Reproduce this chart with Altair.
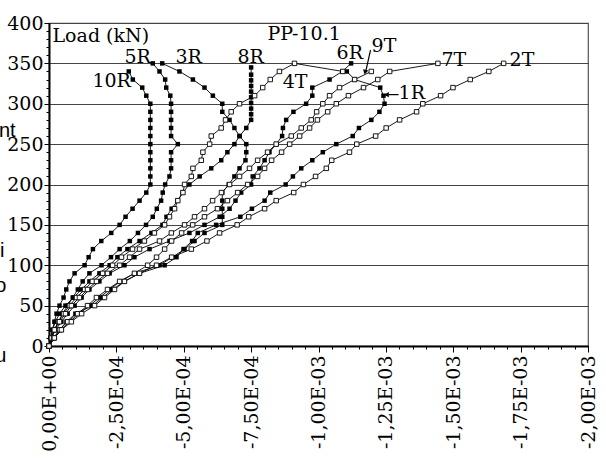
import altair as alt
import pandas as pd

# ---------------- data (strain in microstrain, load in kN) ----------------
loads_10R = [0,10,20,30,40,50,60,70,80,90,100,110,120,130,140,150,160,170,180,190,
             200,210,220,230,240,250,260,270,280,290,300,310,320,330,340]
strain_10R = [0,-6,-13,-20,-28,-39,-54,-64,-76,-95,-132,-147,-163,-194,-231,-262,-284,-310,-336,-361,
              -376,-376,-376,-376,-376,-376,-376,-376,-376,-376,-376,-361,-346,-311,-296]

loads_5R = [0,10,20,30,40,50,60,70,80,90,100,110,120,130,140,150,160,170,180,190,
            200,210,220,230,240,250,260,270,280,290,300,310,320,330,340,350]
strain_5R = [0,-9,-20,-35,-50,-69,-88,-107,-125,-150,-195,-230,-262,-300,-330,-360,-385,-400,-416,-422,
             -431,-447,-453,-453,-453,-478,-453,-453,-453,-453,-453,-450,-435,-431,-410,-385]

loads_3R = [0,10,20,30,40,50,60,70,80,90,100,110,120,130,140,150,160,170,180,190,
            200,210,220,230,240,250,260,270,280,290,300,310,320,330,340,350]
strain_3R = [0,-20,-46,-76,-113,-150,-187,-225,-265,-317,-410,-458,-503,-540,-577,-643,-643,-643,-643,-643,
             -667,-688,-707,-729,-732,-732,-707,-688,-670,-643,-643,-608,-577,-534,-484,-420]

loads_8R = [0,10,20,30,40,50,60,70,80,90,100,110,120,130,140,150,160,170,180,190,
            200,210,220,230,240,250,260,270,280,287,294,301,308,315,322,329,336,345]
strain_8R = [0,-6,-13,-24,-39,-61,-91,-121,-150,-187,-225,-254,-291,-336,-380,-421,-436,-455,-477,-496,
             -521,-559,-602,-639,-662,-688,-707,-732,-750,-750,-750,-750,-750,-750,-750,-750,-750,-750]

loads_4T = [0,10,20,30,40,50,60,70,80,90,100,110,120,130,140,150,160,170,180,190,
            200,210,220,230,240,250,260,270,280,290,300,310,320,330,340,350,340]
strain_4T = [0,-9,-20,-35,-54,-76,-102,-132,-161,-199,-236,-269,-310,-354,-391,-429,-447,-466,-478,-497,
             -503,-528,-534,-565,-571,-596,-602,-639,-655,-676,-707,-763,-793,-821,-855,-911,-1090]

loads_6R = [0,10,20,30,40,50,60,70,80,90,100,110,120,130,140,150,160,170,180,190,
            200,210,220,230,240,250,260,270,280,290,300,310,320,330,340,350]
strain_6R = [0,-9,-24,-46,-69,-95,-121,-150,-187,-225,-280,-317,-373,-447,-521,-577,-633,-670,-692,-713,
             -750,-756,-781,-800,-818,-843,-865,-868,-880,-907,-954,-977,-977,-1041,-1088,-1121]

loads_9T = [0,10,20,30,40,50,60,70,80,90,100,110,120,130,140,150,160,170,180,190,
            200,210,220,230,240,250,260,270,280,290,300,310,320,330,340]
strain_9T = [0,-9,-20,-39,-61,-83,-113,-143,-176,-217,-262,-299,-336,-410,-454,-503,-540,-577,-607,-640,
             -670,-707,-744,-774,-811,-843,-899,-936,-973,-993,-1016,-1041,-1078,-1134,-1196]

loads_7T = [0,10,20,30,40,50,60,70,80,90,100,110,120,130,140,150,160,170,180,190,
            200,210,220,230,240,250,260,270,280,290,300,310,320,330,340,350]
strain_7T = [0,-17,-39,-69,-106,-143,-176,-217,-262,-317,-366,-399,-429,-455,-492,-533,-577,-625,-662,-700,
             -737,-774,-800,-826,-863,-893,-930,-967,-996,-1034,-1066,-1111,-1167,-1220,-1264,-1443]

loads_1R = [0,10,20,30,40,50,60,70,80,90,100,110,120,130,140,150,160,170,180,190,
            200,210,220,230,240,250,260,270,280,290,300,310,320,330,340]
strain_1R = [0,-20,-39,-65,-98,-161,-199,-236,-280,-336,-429,-473,-499,-531,-552,-620,-710,-753,-800,-821,
             -878,-905,-936,-977,-1016,-1066,-1127,-1150,-1196,-1226,-1245,-1241,-1229,-1134,-1105]

loads_2T = [0,10,20,30,40,50,60,70,80,90,100,110,120,130,140,150,160,170,180,190,
            200,210,220,230,240,250,260,270,280,290,300,310,320,330,340,350]
strain_2T = [0,-20,-46,-83,-121,-169,-206,-243,-280,-336,-399,-455,-528,-586,-633,-698,-741,-800,-843,-908,
             -944,-989,-1029,-1049,-1115,-1142,-1212,-1251,-1301,-1364,-1387,-1453,-1499,-1563,-1632,-1687]

series_table = [
    ("10R", loads_10R, strain_10R), ("5R", loads_5R, strain_5R), ("3R", loads_3R, strain_3R),
    ("8R", loads_8R, strain_8R), ("4T", loads_4T, strain_4T), ("6R", loads_6R, strain_6R),
    ("9T", loads_9T, strain_9T), ("7T", loads_7T, strain_7T), ("1R", loads_1R, strain_1R),
    ("2T", loads_2T, strain_2T),
]

# axis tick values / labels (x in units of 1e-4)
x_tick_values = [0, -2.5, -5, -7.5, -10, -12.5, -15, -17.5, -20]
x_tick_labels = ["0,00E+00", "-2,50E-04", "-5,00E-04", "-7,50E-04", "-1,00E-03",
                 "-1,25E-03", "-1,50E-03", "-1,75E-03", "-2,00E-03"]
x_minor_values = [-0.5 * k for k in range(0, 41)]
y_tick_values = [0, 50, 100, 150, 200, 250, 300, 350, 400]
y_minor_values = list(range(0, 401, 10))

# annotation labels (x in 1e-4 units, y in kN)
label_text = ["Load (kN)", "PP-10.1", "10R", "5R", "3R", "8R", "4T", "6R", "9T", "7T", "2T", "1R"]
label_x = [-0.13, -8.11, -1.61, -2.80, -4.69, -6.99, -8.67, -10.67, -11.97, -14.56, -17.09, -12.97]
label_y = [376.2, 378.7, 320.5, 350.2, 350.2, 350.2, 319.3, 355.2, 363.9, 346.5, 346.5, 305.7]

# stray fragments of neighbouring text at the left margin
stray_text = ["nt", "i", "o", "u"]
stray_x = [1.24, 1.65, 1.58, 1.58]
stray_y = [258.7, 110.1, 66.8, -19.8]

# ---------------- build tables ----------------
rows = []
for name, ls, ss in series_table:
    for i, (l, s) in enumerate(zip(ls, ss)):
        rows.append({"series": name, "idx": i, "load": l, "x": s / 100.0,
                     "kind": "R" if name.endswith("R") else "T"})
df = pd.DataFrame(rows)
labels_df = pd.DataFrame({"text": label_text, "x": label_x, "y": label_y})
stray_df = pd.DataFrame({"text": stray_text, "x": stray_x, "y": stray_y})
arrow_df = pd.DataFrame({"x": [-11.93, -12.97], "y": [366.3, 311.3],
                         "x2": [-11.76, -12.60], "y2": [341.0, 311.3]})
head_df = pd.DataFrame({"x": [-11.73, -12.52], "y": [339.0, 311.3],
                        "shape": ["triangle-down", "triangle-left"], "angle": [14, 0]})

SERIF = "DejaVu Serif"
SANS = "Liberation Sans, Arial, sans-serif"
FS = 19
xscale = alt.Scale(domain=[0, -20], nice=False, zero=False)
yscale = alt.Scale(domain=[0, 400], nice=False)

label_expr = "[" + ",".join("'%s'" % t for t in x_tick_labels) + "][round(-datum.value/2.5)]"

x_main = alt.X("x:Q", scale=xscale, title=None,
               axis=alt.Axis(values=x_tick_values, labelExpr=label_expr, labelAngle=270,
                             labelAlign="right", labelBaseline="middle", labelFont=SERIF,
                             labelFontSize=FS, labelColor="black", labelPadding=3,
                             tickSize=6, tickColor="black", tickWidth=1, domainColor="black",
                             domainWidth=2, grid=False, labelOverlap=False, labelFlush=False,
                             orient="bottom"))
y_main = alt.Y("load:Q", scale=yscale, title=None,
               axis=alt.Axis(values=y_tick_values, labelFont=SERIF, labelFontSize=FS,
                             labelColor="black", labelPadding=1, tickSize=5, tickColor="black",
                             domainColor="black", domainWidth=2, grid=True, gridColor="#444",
                             gridWidth=1, labelOverlap=False, labelFlush=False, orient="left"))

X0 = alt.X("x:Q", scale=xscale, axis=None)
Y0 = alt.Y("load:Q", scale=yscale, axis=None)
XA = alt.X("x:Q", scale=xscale, axis=None)
YA = alt.Y("y:Q", scale=yscale, axis=None)

lines = alt.Chart(df).mark_line(color="black", strokeWidth=0.9).encode(
    x=x_main, y=y_main, detail="series:N", order="idx:Q")

filled_pts = alt.Chart(df).transform_filter(alt.datum.kind == "R").mark_point(
    shape="square", filled=True, color="black", size=20, opacity=1).encode(x=X0, y=Y0)

open_pts = alt.Chart(df).transform_filter(alt.datum.kind == "T").mark_point(
    shape="square", filled=True, fill="white", stroke="black", strokeWidth=0.9,
    size=20, opacity=1).encode(x=X0, y=Y0)

labels = alt.Chart(labels_df).mark_text(font=SERIF, fontSize=FS, align="left",
                                        baseline="alphabetic", color="black").encode(
    x=XA, y=YA, text="text:N")

stray = alt.Chart(stray_df).mark_text(font=SANS, fontSize=20, align="right",
                                      baseline="alphabetic", color="black").encode(
    x=XA, y=YA, text="text:N")

arrows = alt.Chart(arrow_df).mark_rule(color="black", strokeWidth=1.2).encode(
    x=XA, y=YA, x2="x2:Q", y2="y2:Q")

heads = alt.Chart(head_df).mark_point(filled=True, color="black", size=30, opacity=1).encode(
    x=XA, y=YA,
    shape=alt.Shape("shape:N", scale=None), angle=alt.Angle("angle:Q", scale=None))

minor = alt.Chart(df).mark_point(opacity=0).encode(
    x=alt.X("x:Q", scale=xscale, title=None,
            axis=alt.Axis(values=x_minor_values, labels=False, tickSize=3, tickColor="black",
                          domain=False, grid=False, orient="bottom")),
    y=alt.Y("load:Q", scale=yscale, title=None,
            axis=alt.Axis(values=y_minor_values, labels=False, tickSize=3, tickColor="black",
                          domain=False, grid=False, orient="left")))

chart = alt.layer(lines, filled_pts, open_pts, labels, stray, arrows, heads, minor).resolve_axis(
    x="independent", y="independent").properties(
    width=539, height=323,
    padding={"left": 49, "top": 23, "right": 18, "bottom": 122},
    autosize=alt.AutoSizeParams(type="none"),
    background="white",
).configure_view(stroke="#555", strokeWidth=1.2)

chart.save("out.html", embed_options={"renderer": "svg", "actions": False})
